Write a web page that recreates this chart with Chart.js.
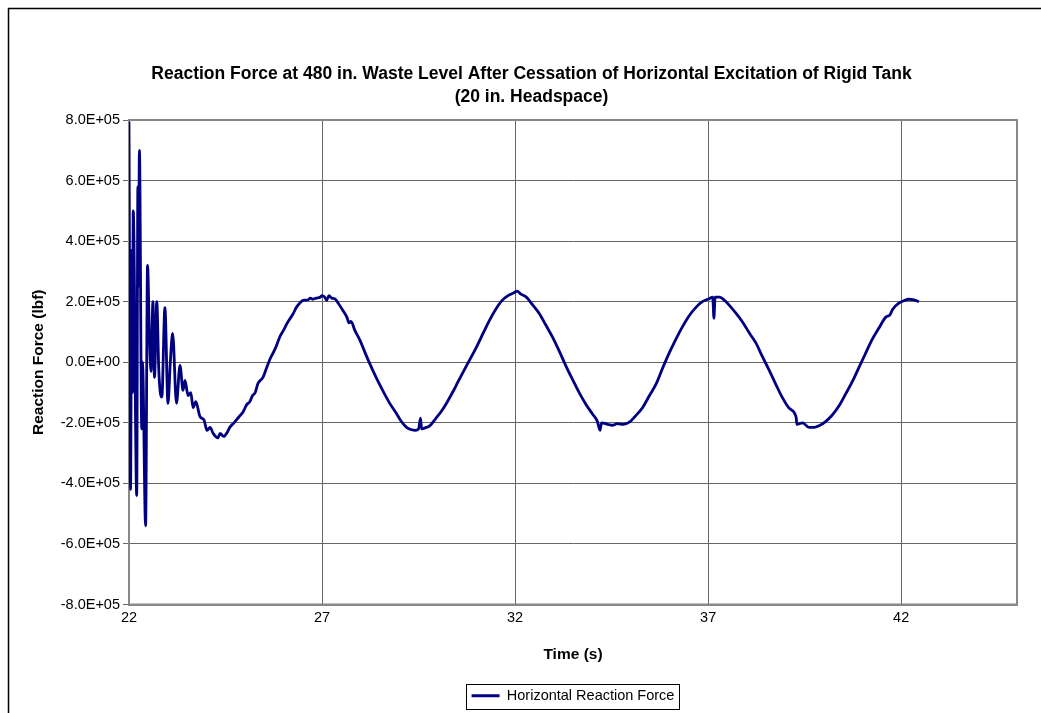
<!DOCTYPE html>
<html><head><meta charset="utf-8">
<script src="https://cdn.jsdelivr.net/npm/chart.js@4"></script>
<style>html,body{margin:0;padding:0;background:#fff;overflow:hidden}</style>
</head><body>
<canvas id="c" width="1041" height="713"></canvas>
<script>
// ---------- data ----------
const titleLines = ['Reaction Force at 480 in. Waste Level After Cessation of Horizontal Excitation of Rigid Tank', '(20 in. Headspace)'];
const seriesLabel = 'Horizontal Reaction Force';
const xAxisTitle = 'Time (s)';
const yAxisTitle = 'Reaction Force (lbf)';
const xTickValues = [22, 27, 32, 37, 42];
const yTickValues = [-800000, -600000, -400000, -200000, 0, 200000, 400000, 600000, 800000];
const yTickLabels = ['-8.0E+05', '-6.0E+05', '-4.0E+05', '-2.0E+05', '0.0E+00', '2.0E+05', '4.0E+05', '6.0E+05', '8.0E+05'];

const times = [
  22.00, 22.04, 22.07, 22.09, 22.11, 22.20, 22.23, 22.245, 22.27, 22.33,
  22.35, 22.43, 22.48, 22.53, 22.57, 22.62, 22.66, 22.72, 22.77, 22.81,
  22.85, 22.93, 23.01, 23.07, 23.13, 23.23, 23.32, 23.40, 23.45, 23.53,
  23.60, 23.66, 23.73, 23.84, 23.94, 24.02, 24.10, 24.18, 24.30, 24.36,
  24.45, 24.55, 24.61, 24.72, 24.85, 24.95, 25.05, 25.13, 25.20, 25.27,
  25.34, 25.40, 25.47, 25.56, 25.65, 25.75, 25.82, 25.91, 26.00, 26.08,
  26.16, 26.25, 26.33, 26.42, 26.52, 26.62, 26.70, 26.76, 26.85, 26.95,
  27.00, 27.07, 27.12, 27.18, 27.25, 27.33, 27.42, 27.52, 27.64, 27.70,
  27.75, 27.85, 27.98, 28.10, 28.23, 28.40, 28.57, 28.75, 28.93, 29.05,
  29.19, 29.30, 29.42, 29.50, 29.55, 29.58, 29.70, 29.79, 29.95, 30.10,
  30.22, 30.40, 30.52, 30.64, 30.82, 31.00, 31.17, 31.34, 31.50, 31.67,
  31.82, 31.98, 32.05, 32.15, 32.29, 32.45, 32.63, 32.80, 32.97, 33.15,
  33.33, 33.50, 33.67, 33.84, 34.00, 34.13, 34.20, 34.24, 34.40, 34.52,
  34.65, 34.80, 34.96, 35.10, 35.30, 35.48, 35.66, 35.82, 35.99, 36.16,
  36.33, 36.50, 36.69, 36.85, 37.03, 37.12, 37.15, 37.18, 37.30, 37.42,
  37.55, 37.72, 37.89, 38.06, 38.24, 38.40, 38.58, 38.75, 38.92, 39.10,
  39.28, 39.30, 39.45, 39.61, 39.75, 39.87, 40.05, 40.21, 40.40, 40.57,
  40.75, 40.91, 41.08, 41.24, 41.42, 41.61, 41.70, 41.78, 41.94, 42.07,
  42.20, 42.33, 42.46
];
const forces = [
  795000, -420000, 370000, -100000, 500000, -440000, 580000, 250000, 700000, -220000,
  0, -540000, 320000, 80000, -30000, 200000, -50000, 200000, -20000, -100000,
  -115000, 180000, -136000, 0, 95000, -136000, -10000, -93000, -60000, -110000,
  -100000, -150000, -130000, -180000, -190000, -225000, -215000, -235000, -250000, -235000,
  -245000, -230000, -215000, -200000, -180000, -165000, -140000, -130000, -110000, -100000,
  -70000, -60000, -50000, -20000, 10000, 35000, 55000, 85000, 105000, 125000,
  142000, 160000, 180000, 195000, 205000, 205000, 212000, 208000, 212000, 215000,
  220000, 215000, 205000, 220000, 212000, 210000, 195000, 175000, 150000, 130000,
  135000, 105000, 73000, 36000, -3000, -50000, -93000, -135000, -170000, -195000,
  -215000, -222000, -225000, -220000, -185000, -220000, -215000, -210000, -185000, -160000,
  -136000, -95000, -65000, -36000, 7000, 50000, 95000, 139000, 175000, 205000,
  220000, 230000, 235000, 225000, 215000, 190000, 160000, 122000, 83000, 35000,
  -16000, -60000, -103000, -140000, -170000, -195000, -225000, -200000, -205000, -208000,
  -203000, -205000, -198000, -180000, -150000, -110000, -70000, -20000, 30000, 75000,
  116000, 152000, 182000, 200000, 210000, 215000, 145000, 215000, 215000, 205000,
  188000, 162000, 133000, 98000, 63000, 20000, -26000, -72000, -116000, -152000,
  -182000, -205000, -200000, -215000, -215000, -210000, -195000, -175000, -142000, -103000,
  -60000, -16000, 30000, 73000, 112000, 150000, 155000, 175000, 195000, 203000,
  208000, 206000, 200000
];

// ---------- rendering ----------
const FONT = "'Liberation Sans', Arial, sans-serif";
const points = times.map((t, i) => ({ x: t, y: forces[i] }));

const framePlugin = {
  id: 'frame',
  beforeDraw(chart) {
    const ctx = chart.ctx;
    ctx.save();
    ctx.fillStyle = '#fff';
    ctx.fillRect(0, 0, chart.width, chart.height);
    ctx.strokeStyle = '#000';
    ctx.lineWidth = 1.5;
    ctx.beginPath();
    ctx.moveTo(8.5, chart.height + 2);
    ctx.lineTo(8.5, 8.5);
    ctx.lineTo(chart.width + 2, 8.5);
    ctx.stroke();
    ctx.restore();
  },
  beforeDatasetsDraw(chart) {
    const a = chart.chartArea, ctx = chart.ctx;
    ctx.save();
    ctx.strokeStyle = '#888';
    ctx.lineWidth = 2;
    ctx.strokeRect(a.left, a.top, a.right - a.left, a.bottom - a.top);
    ctx.restore();
  },
  afterDraw(chart) {
    const lg = chart.legend;
    if (!lg || !lg.legendHitBoxes || !lg.legendHitBoxes.length) return;
    const hb = lg.legendHitBoxes[0];
    const ctx = chart.ctx;
    ctx.save();
    ctx.strokeStyle = '#000';
    ctx.lineWidth = 1;
    ctx.strokeRect(Math.round(hb.left - 6) + 0.5, Math.round(hb.top - 5) + 0.5, Math.round(hb.width + 10), Math.round(hb.height + 10));
    ctx.restore();
  }
};

new Chart(document.getElementById('c'), {
  type: 'line',
  data: {
    datasets: [{
      label: seriesLabel,
      data: points,
      borderColor: '#000080',
      backgroundColor: '#000080',
      borderWidth: 2.8,
      pointRadius: 0,
      cubicInterpolationMode: 'monotone',
      fill: false
    }]
  },
  options: {
    responsive: false,
    animation: false,
    devicePixelRatio: 1,
    layout: { padding: { top: 10, left: 46, right: 24, bottom: 0 } },
    plugins: {
      title: {
        display: true,
        text: titleLines,
        color: '#000',
        font: { family: FONT, size: 17.5, weight: 'bold', lineHeight: 23 / 17.5 },
        padding: { top: 52.5, bottom: 11.5 }
      },
      legend: {
        display: true,
        position: 'bottom',
        fullSize: false,
        labels: {
          color: '#000',
          font: { family: FONT, size: 14.5 },
          usePointStyle: true,
          pointStyle: 'line',
          pointStyleWidth: 28,
          padding: 13
        }
      },
      tooltip: { enabled: false }
    },
    scales: {
      x: {
        type: 'linear',
        min: 22,
        max: 45,
        afterBuildTicks: s => { s.ticks = xTickValues.map(v => ({ value: v })); },
        afterFit: s => { s.height = 71; },
        ticks: { color: '#000', font: { family: FONT, size: 14.5 }, padding: 5, maxRotation: 0, autoSkip: false },
        grid: { color: '#666', lineWidth: 1, drawTicks: false },
        border: { color: '#888', width: 2 },
        title: { display: true, text: xAxisTitle, color: '#000', font: { family: FONT, size: 15.5, weight: 'bold' }, padding: { top: 0, bottom: 11 } }
      },
      y: {
        type: 'linear',
        min: -800000,
        max: 800000,
        afterBuildTicks: s => { s.ticks = yTickValues.map(v => ({ value: v })); },
        afterFit: s => { s.width = 83; },
        ticks: {
          color: '#000', font: { family: FONT, size: 14.5 }, padding: 3, autoSkip: false,
          callback: (v) => { const i = yTickValues.indexOf(v); return i >= 0 ? yTickLabels[i] : ''; }
        },
        grid: { color: '#666', lineWidth: 1, tickLength: 6 },
        border: { color: '#888', width: 2 },
        title: { display: true, text: yAxisTitle, color: '#000', font: { family: FONT, size: 15.5, weight: 'bold' }, padding: { top: -17, bottom: 0 } }
      }
    }
  },
  plugins: [framePlugin]
});
</script>
</body></html>
